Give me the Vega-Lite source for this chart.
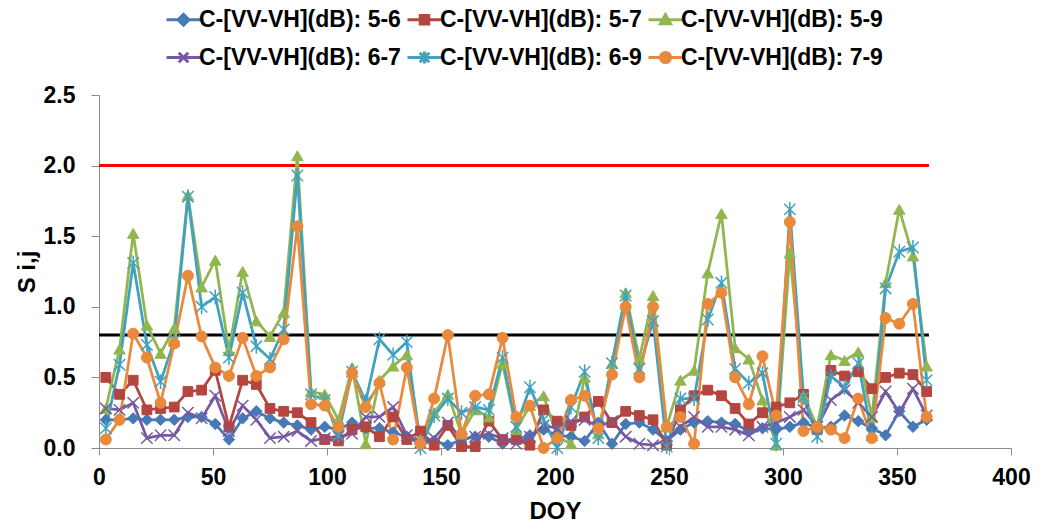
{
  "$schema": "https://vega.github.io/schema/vega-lite/v6.json",
  "width": 912,
  "height": 353,
  "autosize": {"type": "none"},
  "padding": {"left": 99, "top": 95, "right": 27, "bottom": 78},
  "background": "white",
  "datasets": {
    "s": [
      {"d":3,"5-6":0.20,"5-7":0.50,"5-9":0.28,"6-7":0.28,"6-9":0.14,"7-9":0.06},
      {"d":9,"5-6":0.20,"5-7":0.38,"5-9":0.70,"6-7":0.27,"6-9":0.59,"7-9":0.20},
      {"d":15,"5-6":0.21,"5-7":0.48,"5-9":1.52,"6-7":0.32,"6-9":1.31,"7-9":0.81},
      {"d":21,"5-6":0.20,"5-7":0.27,"5-9":0.87,"6-7":0.07,"6-9":0.73,"7-9":0.64},
      {"d":27,"5-6":0.20,"5-7":0.28,"5-9":0.67,"6-7":0.09,"6-9":0.47,"7-9":0.32},
      {"d":33,"5-6":0.20,"5-7":0.29,"5-9":0.85,"6-7":0.09,"6-9":0.76,"7-9":0.74},
      {"d":39,"5-6":0.22,"5-7":0.40,"5-9":1.79,"6-7":0.25,"6-9":1.78,"7-9":1.22},
      {"d":45,"5-6":0.22,"5-7":0.41,"5-9":1.14,"6-7":0.21,"6-9":1.00,"7-9":0.79},
      {"d":51,"5-6":0.17,"5-7":0.55,"5-9":1.33,"6-7":0.37,"6-9":1.07,"7-9":0.57},
      {"d":57,"5-6":0.06,"5-7":0.15,"5-9":0.69,"6-7":0.12,"6-9":0.64,"7-9":0.51},
      {"d":63,"5-6":0.21,"5-7":0.48,"5-9":1.25,"6-7":0.30,"6-9":1.10,"7-9":0.78},
      {"d":69,"5-6":0.26,"5-7":0.45,"5-9":0.90,"6-7":0.20,"6-9":0.72,"7-9":0.51},
      {"d":75,"5-6":0.21,"5-7":0.28,"5-9":0.79,"6-7":0.07,"6-9":0.63,"7-9":0.57},
      {"d":81,"5-6":0.18,"5-7":0.26,"5-9":0.96,"6-7":0.08,"6-9":0.84,"7-9":0.77},
      {"d":87,"5-6":0.16,"5-7":0.25,"5-9":2.07,"6-7":0.12,"6-9":1.93,"7-9":1.57},
      {"d":93,"5-6":0.13,"5-7":0.18,"5-9":0.40,"6-7":0.05,"6-9":0.38,"7-9":0.31},
      {"d":99,"5-6":0.15,"5-7":0.06,"5-9":0.38,"6-7":0.07,"6-9":0.34,"7-9":0.30},
      {"d":105,"5-6":0.13,"5-7":0.05,"5-9":0.20,"6-7":0.08,"6-9":0.09,"7-9":0.15},
      {"d":111,"5-6":0.18,"5-7":0.13,"5-9":0.57,"6-7":0.10,"6-9":0.54,"7-9":0.53},
      {"d":117,"5-6":0.14,"5-7":0.15,"5-9":0.03,"6-7":0.22,"6-9":0.33,"7-9":0.29},
      {"d":123,"5-6":0.14,"5-7":0.08,"5-9":0.48,"6-7":0.22,"6-9":0.77,"7-9":0.46},
      {"d":129,"5-6":0.11,"5-7":0.22,"5-9":0.58,"6-7":0.29,"6-9":0.66,"7-9":0.06},
      {"d":135,"5-6":0.08,"5-7":0.06,"5-9":0.66,"6-7":0.09,"6-9":0.75,"7-9":0.57},
      {"d":141,"5-6":0.03,"5-7":0.12,"5-9":0.06,"6-7":0.04,"6-9":0.00,"7-9":0.03},
      {"d":147,"5-6":0.05,"5-7":0.02,"5-9":0.25,"6-7":0.07,"6-9":0.23,"7-9":0.35},
      {"d":153,"5-6":0.02,"5-7":0.16,"5-9":0.38,"6-7":0.18,"6-9":0.35,"7-9":0.80},
      {"d":159,"5-6":0.06,"5-7":0.01,"5-9":0.10,"6-7":0.06,"6-9":0.25,"7-9":0.10},
      {"d":165,"5-6":0.08,"5-7":0.01,"5-9":0.27,"6-7":0.08,"6-9":0.29,"7-9":0.37},
      {"d":171,"5-6":0.08,"5-7":0.19,"5-9":0.22,"6-7":0.10,"6-9":0.27,"7-9":0.38},
      {"d":177,"5-6":0.03,"5-7":0.06,"5-9":0.60,"6-7":0.07,"6-9":0.64,"7-9":0.78},
      {"d":183,"5-6":0.06,"5-7":0.06,"5-9":0.13,"6-7":0.03,"6-9":0.15,"7-9":0.22},
      {"d":189,"5-6":0.09,"5-7":0.02,"5-9":0.30,"6-7":0.08,"6-9":0.43,"7-9":0.30},
      {"d":195,"5-6":0.13,"5-7":0.27,"5-9":0.37,"6-7":0.16,"6-9":0.20,"7-9":0.00},
      {"d":201,"5-6":0.09,"5-7":0.19,"5-9":0.08,"6-7":0.14,"6-9":0.00,"7-9":0.07},
      {"d":207,"5-6":0.08,"5-7":0.16,"5-9":0.03,"6-7":0.19,"6-9":0.29,"7-9":0.34},
      {"d":213,"5-6":0.05,"5-7":0.22,"5-9":0.50,"6-7":0.20,"6-9":0.54,"7-9":0.37},
      {"d":219,"5-6":0.18,"5-7":0.33,"5-9":0.10,"6-7":0.15,"6-9":0.07,"7-9":0.14},
      {"d":225,"5-6":0.03,"5-7":0.18,"5-9":0.60,"6-7":0.19,"6-9":0.60,"7-9":0.52},
      {"d":231,"5-6":0.17,"5-7":0.26,"5-9":1.10,"6-7":0.08,"6-9":1.08,"7-9":1.00},
      {"d":237,"5-6":0.18,"5-7":0.23,"5-9":0.63,"6-7":0.03,"6-9":0.56,"7-9":0.50},
      {"d":243,"5-6":0.13,"5-7":0.20,"5-9":1.08,"6-7":0.02,"6-9":0.90,"7-9":1.00},
      {"d":249,"5-6":0.05,"5-7":0.02,"5-9":0.15,"6-7":0.06,"6-9":0.01,"7-9":0.15},
      {"d":255,"5-6":0.13,"5-7":0.27,"5-9":0.48,"6-7":0.15,"6-9":0.35,"7-9":0.22},
      {"d":261,"5-6":0.18,"5-7":0.37,"5-9":0.55,"6-7":0.22,"6-9":0.35,"7-9":0.03},
      {"d":267,"5-6":0.19,"5-7":0.41,"5-9":1.24,"6-7":0.15,"6-9":0.91,"7-9":1.02},
      {"d":273,"5-6":0.18,"5-7":0.37,"5-9":1.66,"6-7":0.15,"6-9":1.17,"7-9":1.10},
      {"d":279,"5-6":0.17,"5-7":0.28,"5-9":0.71,"6-7":0.13,"6-9":0.56,"7-9":0.50},
      {"d":285,"5-6":0.12,"5-7":0.17,"5-9":0.63,"6-7":0.09,"6-9":0.46,"7-9":0.31},
      {"d":291,"5-6":0.14,"5-7":0.25,"5-9":0.34,"6-7":0.15,"6-9":0.53,"7-9":0.65},
      {"d":297,"5-6":0.13,"5-7":0.29,"5-9":0.02,"6-7":0.18,"6-9":0.03,"7-9":0.23},
      {"d":303,"5-6":0.15,"5-7":0.32,"5-9":1.38,"6-7":0.22,"6-9":1.69,"7-9":1.60},
      {"d":309,"5-6":0.18,"5-7":0.38,"5-9":0.37,"6-7":0.27,"6-9":0.36,"7-9":0.12},
      {"d":315,"5-6":0.14,"5-7":0.13,"5-9":0.15,"6-7":0.15,"6-9":0.08,"7-9":0.15},
      {"d":321,"5-6":0.15,"5-7":0.55,"5-9":0.66,"6-7":0.34,"6-9":0.51,"7-9":0.13},
      {"d":327,"5-6":0.23,"5-7":0.51,"5-9":0.62,"6-7":0.41,"6-9":0.43,"7-9":0.07},
      {"d":333,"5-6":0.19,"5-7":0.54,"5-9":0.68,"6-7":0.32,"6-9":0.60,"7-9":0.35},
      {"d":339,"5-6":0.14,"5-7":0.42,"5-9":0.22,"6-7":0.22,"6-9":0.09,"7-9":0.07},
      {"d":345,"5-6":0.09,"5-7":0.50,"5-9":1.17,"6-7":0.40,"6-9":1.13,"7-9":0.92},
      {"d":351,"5-6":0.26,"5-7":0.53,"5-9":1.69,"6-7":0.25,"6-9":1.39,"7-9":0.88},
      {"d":357,"5-6":0.15,"5-7":0.52,"5-9":1.36,"6-7":0.42,"6-9":1.42,"7-9":1.02},
      {"d":363,"5-6":0.20,"5-7":0.40,"5-9":0.58,"6-7":0.23,"6-9":0.48,"7-9":0.22}
    ],
    "refs": [
      {"line": "red", "y": 2.0, "x": 0, "x2": 364},
      {"line": "black", "y": 0.8, "x": 0, "x2": 364}
    ]
  },
  "layer": [
    {
      "data": {"name": "refs"},
      "transform": [{"filter": "datum.line === 'red'"}],
      "mark": {"type": "rule", "color": "#FF0000", "strokeWidth": 3},
      "encoding": {
        "x": {"field": "x", "type": "quantitative", "title": "DOY", "scale": {"domain": [0, 400], "nice": false}},
        "x2": {"field": "x2"},
        "y": {"field": "y", "type": "quantitative", "title": "S i,j", "scale": {"domain": [0, 2.5], "nice": false}}
      }
    },
    {
      "data": {"name": "refs"},
      "transform": [{"filter": "datum.line === 'black'"}],
      "mark": {"type": "rule", "color": "#000000", "strokeWidth": 3},
      "encoding": {
        "x": {"field": "x", "type": "quantitative", "title": "DOY"},
        "x2": {"field": "x2"},
        "y": {"field": "y", "type": "quantitative", "title": "S i,j"}
      }
    },
    {
      "data": {"name": "s"},
      "transform": [{"fold": ["5-6", "5-7", "5-9", "6-7", "6-9", "7-9"], "as": ["key", "val"]}],
      "encoding": {
        "x": {"field": "d", "type": "quantitative", "title": "DOY",
              "axis": {"values": [0, 50, 100, 150, 200, 250, 300, 350, 400], "labelFlush": false}},
        "y": {"field": "val", "type": "quantitative", "title": "S i,j",
              "axis": {"values": [0, 0.5, 1, 1.5, 2, 2.5], "format": ".1f", "labelFlush": false}},
        "color": {
          "field": "key", "type": "nominal",
          "scale": {"domain": ["5-6", "5-7", "5-9", "6-7", "6-9", "7-9"],
                    "range": ["#4679B5", "#B4453F", "#92B64F", "#7659A2", "#40A2C0", "#E9893B"]},
          "legend": {
            "title": null,
            "orient": "none",
            "legendX": 66,
            "legendY": -94,
            "direction": "horizontal",
            "columns": 3,
            "columnPadding": 0,
            "rowPadding": 7,
            "padding": 0,
            "symbolSize": 1156,
            "labelOffset": -3,
            "labelLimit": 400,
            "labelFont": "Liberation Sans",
            "labelFontWeight": "bold",
            "labelFontSize": 23,
            "labelColor": "#000000",
            "labelExpr": "'C-[VV-VH](dB): ' + datum.label",
            "encode": {
              "symbols": {
                "update": {
                  "shape": {"signal": "datum.value === '5-6' ? 'M-1,0H1M0,-0.32L0.32,0L0,0.32L-0.32,0Z' : datum.value === '5-7' ? 'M-1,0H1M-0.25,-0.25H0.25V0.25H-0.25Z' : datum.value === '5-9' ? 'M-1,0H1M0,-0.3L0.3,0.24L-0.3,0.24Z' : datum.value === '6-7' ? 'M-1,0H1M-0.28,-0.28L0.28,0.28M-0.28,0.28L0.28,-0.28' : datum.value === '6-9' ? 'M-1,0H1M-0.28,-0.28L0.28,0.28M-0.28,0.28L0.28,-0.28M0,-0.36V0.36' : 'M-1,0H1M-0.3,0A0.3,0.3,0,1,0,0.3,0A0.3,0.3,0,1,0,-0.3,0Z'"},
                  "fill": {"signal": "scale('color', datum.value)"},
                  "stroke": {"signal": "scale('color', datum.value)"},
                  "strokeWidth": {"value": 3},
                  "opacity": {"value": 1},
                  "fillOpacity": {"value": 1},
                  "strokeOpacity": {"value": 1}
                }
              }
            }
          }
        }
      },
      "layer": [
        {"mark": {"type": "line", "strokeWidth": 2.75}},
        {"transform": [{"filter": "datum.key === '5-6'"}],
         "mark": {"type": "point", "shape": "diamond", "filled": true, "size": 130, "stroke": "#4679B5", "strokeWidth": 1, "opacity": 1}},
        {"transform": [{"filter": "datum.key === '5-7'"}],
         "mark": {"type": "point", "shape": "square", "filled": true, "size": 95, "stroke": "#B4453F", "strokeWidth": 1, "opacity": 1}},
        {"transform": [{"filter": "datum.key === '5-9'"}],
         "mark": {"type": "point", "shape": "triangle-up", "filled": true, "size": 130, "stroke": "#92B64F", "strokeWidth": 1, "opacity": 1}},
        {"transform": [{"filter": "datum.key === '6-7'"}],
         "mark": {"type": "point", "shape": "M-1,-1L1,1M-1,1L1,-1", "filled": false, "size": 130, "strokeWidth": 1.5, "opacity": 1}},
        {"transform": [{"filter": "datum.key === '6-9'"}],
         "mark": {"type": "point", "shape": "M-1,-1L1,1M-1,1L1,-1M0,-1.3V1.3", "filled": false, "size": 130, "strokeWidth": 1.5, "opacity": 1}},
        {"transform": [{"filter": "datum.key === '7-9'"}],
         "mark": {"type": "point", "shape": "circle", "filled": true, "size": 120, "stroke": "#E9893B", "strokeWidth": 1, "opacity": 1}}
      ]
    }
  ],
  "config": {
    "view": {"stroke": null},
    "axis": {
      "grid": false,
      "labelFont": "Liberation Sans",
      "labelFontWeight": "bold",
      "labelFontSize": 23,
      "labelColor": "#000000",
      "titleFont": "Liberation Sans",
      "titleFontWeight": "bold",
      "titleFontSize": 24,
      "titleColor": "#000000",
      "domainColor": "#8C8C8C",
      "tickColor": "#8C8C8C",
      "domainWidth": 1,
      "tickWidth": 1
    },
    "axisX": {"tickSize": 7, "labelPadding": 11, "titlePadding": 10},
    "axisY": {"tickSize": 8, "labelPadding": 16, "titlePadding": 4}
  }
}
